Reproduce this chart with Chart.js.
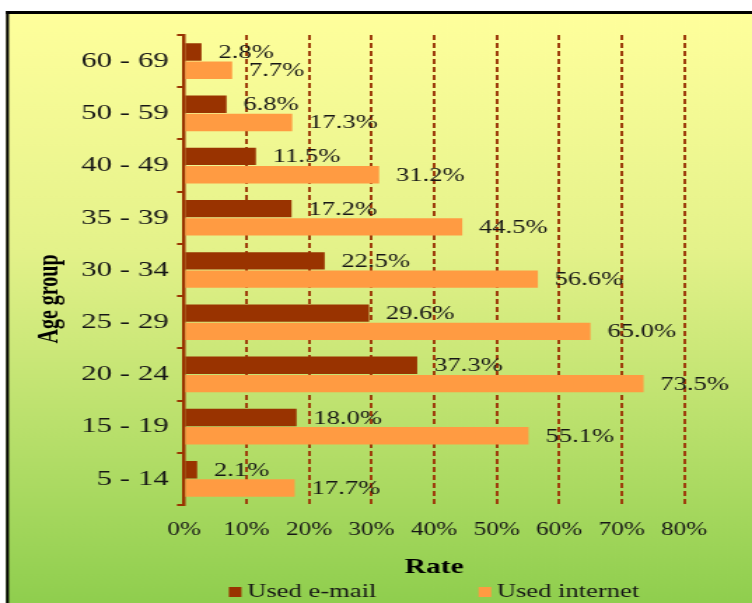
<!DOCTYPE html>
<html>
<head>
<meta charset="utf-8">
<script src="https://cdn.jsdelivr.net/npm/chart.js@4.4.1/dist/chart.umd.min.js"></script>
<style>
  html, body { margin: 0; padding: 0; background: #fff; overflow: hidden; }
  #wrap { position: absolute; left: 0; top: 0; width: 537px; height: 603px;
          transform: scaleX(1.40037); transform-origin: 0 0; }
</style>
</head>
<body>
<div id="wrap"><canvas id="c"></canvas></div>
<script>
// ---- data ----
const ageGroups = ['60 - 69', '50 - 59', '40 - 49', '35 - 39', '30 - 34', '25 - 29', '20 - 24', '15 - 19', '5 - 14'];
const usedEmail = [2.8, 6.8, 11.5, 17.2, 22.5, 29.6, 37.3, 18.0, 2.1];
const usedInternet = [7.7, 17.3, 31.2, 44.5, 56.6, 65.0, 73.5, 55.1, 17.7];
const rateTicks = ['0%', '10%', '20%', '30%', '40%', '50%', '60%', '70%', '80%'];
const seriesNames = ['Used e-mail', 'Used internet'];

const SERIF = '"Liberation Serif", "Times New Roman", serif';
const EMAIL_COLOR = '#993300';
const NET_COLOR = '#ff9b42';
const GRID_COLOR = '#9e3f0c';

const bgPlugin = {
  id: 'bg',
  beforeDraw(chart) {
    const { ctx, width, height } = chart;
    ctx.save();
    ctx.fillStyle = '#ffffff';
    ctx.fillRect(0, 0, width, height);
    const g = ctx.createLinearGradient(0, 12, 0, height);
    g.addColorStop(0, '#ffff9c');
    g.addColorStop(0.4, '#e4f28a');
    g.addColorStop(1, '#8fce4e');
    ctx.fillStyle = g;
    ctx.fillRect(4.3, 11, width, height);
    ctx.fillStyle = '#000';
    ctx.fillRect(4.3, 11, width, 3);
    ctx.fillRect(4.3, 11, 2.1, height);
    ctx.restore();
  }
};

const labelPlugin = {
  id: 'valueLabels',
  afterDatasetsDraw(chart) {
    const { ctx } = chart;
    ctx.save();
    ctx.font = '19px ' + SERIF;
    ctx.fillStyle = '#161616';
    ctx.textAlign = 'left';
    ctx.textBaseline = 'middle';
    chart.data.datasets.forEach((ds, i) => {
      const meta = chart.getDatasetMeta(i);
      meta.data.forEach((bar, j) => {
        ctx.fillText(ds.data[j].toFixed(1) + '%', bar.x + 12, bar.y + 1);
      });
    });
    ctx.restore();
  }
};

const extrasPlugin = {
  id: 'extras',
  afterDraw(chart) {
    const { ctx, chartArea } = chart;
    ctx.save();
    // y axis title
    ctx.font = 'bold 20px ' + SERIF;
    ctx.fillStyle = '#000';
    ctx.textAlign = 'center';
    ctx.textBaseline = 'middle';
    ctx.translate(36, 299);
    ctx.rotate(-Math.PI / 2);
    ctx.fillText('Age group', 0, 0);
    ctx.restore();

    // legend
    ctx.save();
    ctx.font = '19px ' + SERIF;
    ctx.textBaseline = 'middle';
    ctx.textAlign = 'left';
    const box = 9, gapBoxText = 4, gapItems = 73;
    const items = chart.data.datasets.map(ds => ({ text: ds.label, color: ds.backgroundColor }));
    const widths = items.map(it => box + gapBoxText + ctx.measureText(it.text).width);
    const total = widths.reduce((a, b) => a + b, 0) + gapItems * (items.length - 1);
    let x = (chartArea.left + chartArea.right) / 2 - total / 2;
    const y = 592;
    items.forEach((it, i) => {
      ctx.fillStyle = it.color;
      ctx.fillRect(x, y - 5, box, 10);
      ctx.fillStyle = '#161616';
      ctx.fillText(it.text, x + box + gapBoxText, y);
      x += widths[i] + gapItems;
    });
    ctx.restore();
  }
};

new Chart(document.getElementById('c'), {
  type: 'bar',
  data: {
    labels: ageGroups,
    datasets: [
      { label: seriesNames[0], data: usedEmail, backgroundColor: EMAIL_COLOR,
        categoryPercentage: 0.7, barPercentage: 0.95 },
      { label: seriesNames[1], data: usedInternet, backgroundColor: NET_COLOR,
        categoryPercentage: 0.7, barPercentage: 0.95 }
    ]
  },
  options: {
    indexAxis: 'y',
    responsive: true,
    maintainAspectRatio: false,
    animation: false,
    layout: { padding: { left: 0, right: 48.4, top: 35, bottom: 0 } },
    plugins: {
      legend: { display: false },
      tooltip: { enabled: false }
    },
    scales: {
      x: {
        min: 0, max: 80,
        ticks: {
          stepSize: 10, autoSkip: false, maxRotation: 0, padding: 14,
          color: '#161616', font: { family: SERIF, size: 18 },
          callback: (v, i) => rateTicks[i]
        },
        grid: { color: GRID_COLOR, lineWidth: 2, drawTicks: false, tickLength: 0 },
        border: { display: false, dash: [5, 3] },
        title: { display: true, text: 'Rate', color: '#000',
                 font: { family: SERIF, size: 21, weight: 'bold' },
                 padding: { top: 0, bottom: 23 } },
        afterFit(scale) { scale.height = 98; }
      },
      y: {
        ticks: { color: '#161616', font: { family: SERIF, size: 22 }, padding: 6, autoSkip: false },
        grid: { drawOnChartArea: false, drawTicks: true, tickLength: 5, color: EMAIL_COLOR, lineWidth: 2 },
        border: { display: true, color: EMAIL_COLOR, width: 2.5 },
        afterFit(scale) { scale.width = 131.4; }
      }
    }
  },
  plugins: [bgPlugin, labelPlugin, extrasPlugin]
});
</script>
</body>
</html>
